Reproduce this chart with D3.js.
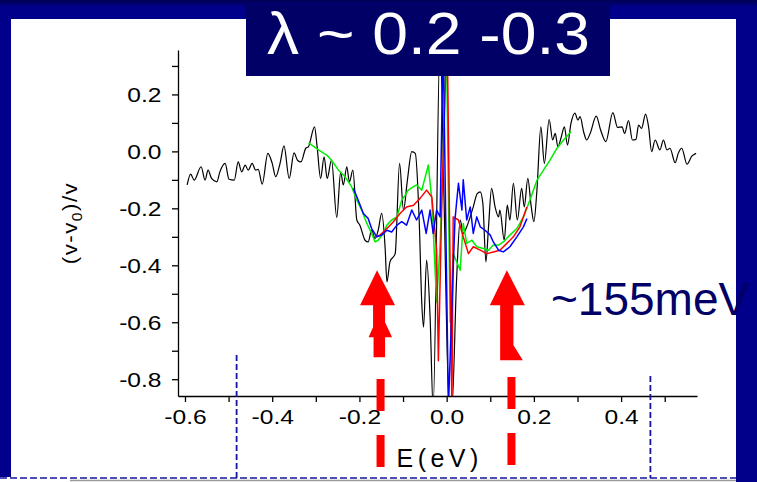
<!DOCTYPE html>
<html>
<head>
<meta charset="utf-8">
<style>
  body { margin: 0; background: #fff; }
  svg { display: block; }
  text { font-family: "Liberation Sans", Arial, sans-serif; }
</style>
</head>
<body>
<script src="https://d3js.org/d3.v7.min.js"></script>
<svg id="chart" width="757" height="482"></svg>
<script>
// energy (eV) and relative change (v-v0)/v
const blackE = [-0.595,-0.587,-0.579,-0.563,-0.554,-0.547,-0.539,-0.527,-0.520,-0.508,-0.499,-0.487,-0.478,-0.470,-0.462,-0.455,-0.446,-0.438,-0.432,-0.423,
  -0.410,-0.400,-0.392,-0.382,-0.373,-0.361,-0.350,-0.342,-0.334,-0.323,-0.317,-0.303,-0.297,-0.289,-0.281,-0.274,-0.264,-0.252,-0.243,-0.237,
  -0.229,-0.223,-0.215,-0.206,-0.199,-0.187,-0.180,-0.172,-0.164,-0.157,-0.149,-0.141,-0.137,-0.130,-0.118,-0.108,-0.099,-0.090,-0.080,-0.072,
  -0.063,-0.057,-0.053,-0.046,-0.038,-0.031,-0.015,-0.006,0.006,0.012,0.023,0.031,0.038,0.046,0.054,0.061,0.070,0.077,0.083,0.090,
  0.096,0.103,0.111,0.119,0.122,0.132,0.139,0.145,0.153,0.162,0.172,0.178,0.186,0.194,0.200,0.207,0.216,0.224,0.235,0.243,
  0.249,0.255,0.262,0.270,0.277,0.285,0.294,0.301,0.306,0.314,0.321,0.329,0.343,0.353,0.365,0.381,0.392,0.402,0.408,0.417,
  0.426,0.434,0.440,0.447,0.456,0.463,0.470,0.478,0.489,0.497,0.505,0.512,0.524,0.531,0.539,0.551,0.562,0.572];
const blackV = [-0.118,-0.080,-0.101,-0.054,-0.101,-0.066,-0.095,-0.107,-0.072,-0.042,-0.098,-0.101,-0.037,-0.072,-0.048,-0.066,-0.042,-0.066,-0.063,-0.115,
  -0.007,-0.042,-0.089,-0.042,0.019,-0.095,-0.005,-0.031,-0.037,0.011,0.016,0.086,0.016,-0.095,-0.019,-0.095,-0.031,-0.232,-0.072,-0.118,
  -0.054,-0.107,-0.066,-0.241,-0.259,-0.312,-0.318,-0.277,-0.306,-0.277,-0.218,-0.341,-0.458,-0.388,-0.359,-0.042,-0.206,-0.101,-0.001,-0.007,
  -0.241,-0.534,-0.617,-0.382,-0.581,-0.900,0.400,-0.170,-0.900,-0.900,-0.441,-0.241,-0.288,-0.265,-0.230,-0.195,-0.148,-0.142,-0.183,-0.388,
  -0.265,-0.130,-0.195,-0.230,-0.206,-0.312,-0.189,-0.241,-0.112,-0.241,-0.130,-0.195,-0.095,-0.195,-0.247,-0.136,0.086,-0.042,0.112,0.040,
  0.063,0.016,0.046,0.086,0.022,0.098,0.134,0.110,0.122,0.069,0.040,0.063,0.124,0.075,0.034,0.136,0.084,0.086,0.063,0.108,
  0.040,0.042,0.092,0.081,0.131,0.086,-0.001,0.040,0.005,0.040,0.005,0.011,-0.040,-0.007,0.011,-0.045,-0.017,-0.007];

const greenE = [-0.317,-0.313,-0.294,-0.275,-0.264,-0.248,-0.233,-0.218,-0.206,-0.195,-0.183,-0.172,-0.164,-0.157,-0.145,-0.137,-0.126,-0.114,-0.103,-0.095,
  -0.088,-0.076,-0.069,-0.057,-0.042,-0.034,-0.023,-0.015,-0.008,-0.001,0.008,0.015,0.031,0.038,0.046,0.058,0.069,0.084,0.096,0.107,
  0.119,0.130,0.145,0.161,0.176,0.191,0.207,0.222,0.237,0.253,0.268,0.285];
const greenV = [0.028,0.026,0.005,-0.013,-0.031,-0.066,-0.089,-0.124,-0.171,-0.206,-0.253,-0.288,-0.318,-0.312,-0.288,-0.259,-0.241,-0.230,-0.171,-0.154,
  -0.136,-0.124,-0.118,-0.136,-0.048,-0.171,-0.529,-0.323,-0.019,0.430,-0.600,-0.359,-0.417,-0.253,-0.323,-0.312,-0.335,-0.341,-0.347,-0.329,
  -0.329,-0.318,-0.294,-0.271,-0.230,-0.171,-0.101,-0.066,-0.031,0.011,0.040,0.069];

const redE = [-0.164,-0.153,-0.137,-0.122,-0.107,-0.092,-0.076,-0.061,-0.046,-0.034,-0.023,-0.019,-0.011,0.001,0.012,0.015,0.027,0.038,0.050,0.061,
  0.077,0.092,0.107,0.122,0.138,0.153,0.168,0.184];
const redV = [-0.300,-0.294,-0.271,-0.247,-0.218,-0.195,-0.189,-0.165,-0.136,-0.160,-0.347,-0.735,-0.170,0.430,-0.900,-0.230,-0.241,-0.300,-0.359,-0.335,
  -0.347,-0.359,-0.353,-0.347,-0.323,-0.300,-0.265,-0.195];

const blueE = [-0.214,-0.203,-0.191,-0.180,-0.172,-0.160,-0.149,-0.137,-0.126,-0.114,-0.103,-0.092,-0.080,-0.069,-0.057,-0.047,-0.038,-0.031,-0.023,-0.015,
  -0.008,0.004,0.019,0.027,0.035,0.038,0.046,0.054,0.061,0.069,0.077,0.088,0.100,0.107,0.119,0.130,0.145,0.161,0.176,0.184];
const blueV = [-0.130,-0.171,-0.218,-0.236,-0.271,-0.300,-0.294,-0.277,-0.283,-0.259,-0.247,-0.259,-0.206,-0.241,-0.206,-0.288,-0.206,-0.288,-0.206,-0.230,
  0.390,-0.900,-0.241,-0.112,-0.206,-0.100,-0.241,-0.195,-0.288,-0.230,-0.265,-0.277,-0.294,-0.318,-0.347,-0.353,-0.335,-0.300,-0.265,-0.236];

const xMajor = [-0.6,-0.4,-0.2,0.0,0.2,0.4];
const xMinor = [-0.5,-0.3,-0.1,0.1,0.3,0.5];
const yMajor = [-0.8,-0.6,-0.4,-0.2,0.0,0.2];
const yMinor = [-0.7,-0.5,-0.3,-0.1,0.1,0.3];

// arrow anchors (energy of arrow, value at its tip)
const arrows = [{e: -0.155, v: -0.417, kind: "left"}, {e: 0.138, v: -0.417, kind: "right"}];

const svg = d3.select("#chart");
const W = 757, H = 482;
const stretch = 1.17; // the slide's text is drawn a bit wide

// slide frame
svg.append("rect").attr("width", W).attr("height", H).attr("fill", "#00008b");
const grad = svg.append("defs").append("linearGradient").attr("id", "topband")
  .attr("x1", 0).attr("y1", 0).attr("x2", 0).attr("y2", 1);
grad.append("stop").attr("offset", "0%").attr("stop-color", "#000050");
grad.append("stop").attr("offset", "100%").attr("stop-color", "#00008b");
svg.append("rect").attr("width", W).attr("height", 7).attr("fill", "url(#topband)");
svg.append("rect").attr("x", 11).attr("y", 19).attr("width", 725).attr("height", 458).attr("fill", "#fff");
svg.append("rect").attr("x", 0).attr("y", 477).attr("width", 736).attr("height", 5).attr("fill", "#fff");
svg.append("line").attr("x1", 70).attr("x2", 736).attr("y1", 480.5).attr("y2", 480.5)
  .attr("stroke", "#9a9a9a").attr("stroke-width", 1.5);
svg.append("line").attr("x1", 0).attr("x2", 736).attr("y1", 478).attr("y2", 478)
  .attr("stroke", "#1515a0").attr("stroke-width", 1.6).attr("stroke-dasharray", "7,3");

const x = d3.scaleLinear().domain([-0.616, 0.574]).range([178, 697]);
const y = d3.scaleLinear().domain([-0.859, 0.356]).range([396, 50]);

svg.select("defs").append("clipPath").attr("id", "plotclip")
  .append("rect").attr("x", 178).attr("y", 50).attr("width", 519).attr("height", 346);

const line = d3.line().x(d => x(d[0])).y(d => y(d[1]));
const plot = svg.append("g").attr("clip-path", "url(#plotclip)");

function draw(es, vs, color, width, curve) {
  plot.append("path")
    .datum(es.map((e, i) => [e, vs[i]]))
    .attr("fill", "none")
    .attr("stroke", color)
    .attr("stroke-width", width)
    .attr("stroke-linejoin", "round")
    .attr("d", line.curve(curve));
}
draw(blackE, blackV, "#000", 1.2, d3.curveMonotoneX);
draw(greenE, greenV, "#00ee00", 1.5, d3.curveLinear);
draw(redE, redV, "#ff0000", 1.5, d3.curveLinear);
draw(blueE, blueV, "#0000ff", 1.5, d3.curveLinear);

// axes
const fmt = d => d.toFixed(1);
const yAxis = svg.append("g").attr("transform", "translate(178,0)")
  .call(d3.axisLeft(y).tickValues(yMajor).tickFormat(fmt).tickSize(6).tickSizeOuter(0));
svg.append("g").attr("transform", "translate(178,0)")
  .call(d3.axisLeft(y).tickValues(yMinor).tickFormat("").tickSize(6).tickSizeOuter(0))
  .select(".domain").remove();
const xAxis = svg.append("g").attr("transform", "translate(0,396)")
  .call(d3.axisBottom(x).tickValues(xMajor).tickFormat(fmt).tickSize(6).tickSizeOuter(0));
svg.append("g").attr("transform", "translate(0,396)")
  .call(d3.axisBottom(x).tickValues(xMinor).tickFormat("").tickSize(6).tickSizeOuter(0))
  .select(".domain").remove();
svg.selectAll(".domain, .tick line").attr("stroke", "#000").attr("stroke-width", 1.3);
svg.selectAll(".tick text")
  .style("font-family", "'Liberation Sans', Arial, sans-serif")
  .style("font-size", "21px").attr("fill", "#000")
  .attr("transform", `scale(${stretch},1)`);
yAxis.selectAll(".tick text").attr("x", -16.5 / stretch).attr("dy", "0.36em");
xAxis.selectAll(".tick text").attr("y", 13.5).attr("dy", "0.71em");

// axis titles
const yl = svg.append("text")
  .attr("transform", `translate(77,223) rotate(-90) scale(1.12,1)`)
  .attr("text-anchor", "middle")
  .style("font-size", "20px").style("letter-spacing", "1.3px");
yl.append("tspan").text("(v-v");
yl.append("tspan").text("0").style("font-size", "14px").attr("dy", 5);
yl.append("tspan").text(")/v").attr("dy", -5);

svg.append("text").attr("x", x(-0.016)).attr("y", 467)
  .attr("text-anchor", "middle")
  .style("font-size", "25px").style("letter-spacing", "4.5px")
  .text("E(eV)");

// red arrows and dashed stems
const shapes = {
  left: [[-2,0],[16,35],[6,35],[6,52],[13,67],[6,67],[6,87],[-5.5,87],[-5.5,67],[-10.5,67],[-6,57],[-6,35],[-19,35]],
  right: [[0,0],[18,35],[6.6,35],[6.6,75],[16,90],[-6.7,90],[-6.7,35],[-17,35]]
};
const stemOffset = {left: 1.5, right: 4.6};
const stemTop = {left: 379, right: 377};
arrows.forEach(a => {
  const cx = x(a.e), ty = y(a.v);
  svg.append("path")
    .attr("d", "M" + shapes[a.kind].map(p => [cx + p[0], ty + p[1]].join(",")).join("L") + "Z")
    .attr("fill", "#ff0000");
  svg.append("line")
    .attr("x1", cx + stemOffset[a.kind]).attr("x2", cx + stemOffset[a.kind])
    .attr("y1", stemTop[a.kind]).attr("y2", 476)
    .attr("stroke", "#ff0000").attr("stroke-width", 8)
    .attr("stroke-dasharray", "32,24");
});

// blue dashed verticals
[[236.6, 355], [650.4, 376]].forEach(d => {
  svg.append("line").attr("x1", d[0]).attr("x2", d[0]).attr("y1", d[1]).attr("y2", 478)
    .attr("stroke", "#1515a0").attr("stroke-width", 1.8).attr("stroke-dasharray", "6,3");
});

// title box
svg.append("rect").attr("x", 246).attr("y", 4).attr("width", 364).attr("height", 72).attr("fill", "#000066");
svg.append("text").attr("x", 267).attr("y", 54)
  .attr("textLength", 323).attr("lengthAdjust", "spacingAndGlyphs")
  .attr("fill", "#fff").style("font-size", "60px")
  .text("λ ~ 0.2 -0.3");

svg.append("text").attr("x", 551).attr("y", 315)
  .attr("fill", "#000066").style("font-size", "46px")
  .text("~155meV");
</script>
</body>
</html>
